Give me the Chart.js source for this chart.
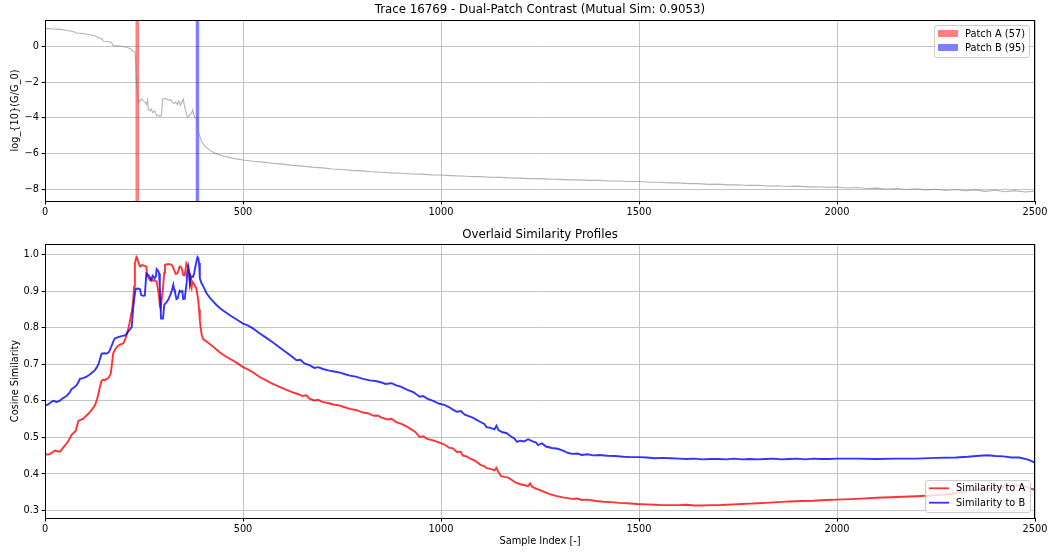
<!DOCTYPE html>
<html><head><meta charset="utf-8">
<script src="https://cdn.jsdelivr.net/npm/chart.js@4.4.0/dist/chart.umd.min.js"></script>
<style>
html,body{margin:0;padding:0;background:#fff;}
#wrap{position:relative;width:1051px;height:554px;overflow:hidden;}
#c1box{position:absolute;left:0;top:0;width:1051px;height:226px;}
#c2box{position:absolute;left:0;top:226px;width:1051px;height:328px;}
</style></head><body>
<div id="wrap"><div id="c1box"><canvas id="c1"></canvas></div><div id="c2box"><canvas id="c2"></canvas></div></div>
<script>
// ---------- data ----------
const xTicks = [0, 500, 1000, 1500, 2000, 2500];
const topYTicks = [0, -2, -4, -6, -8];
const bottomYTicks = [0.3, 0.4, 0.5, 0.6, 0.7, 0.8, 0.9, 1.0];

const topTitle = "Trace 16769 - Dual-Patch Contrast (Mutual Sim: 0.9053)";
const bottomTitle = "Overlaid Similarity Profiles";
const topYLabel = "log_{10}(G/G_0)";
const bottomYLabel = "Cosine Similarity";
const xLabel = "Sample Index [-]";

const patchLabels = ["Patch A (57)", "Patch B (95)"];
const patchA = [228, 238];
const patchB = [380, 390];

const traceX = [0,10,20,30,45,55,65,75,80,95,110,125,139,145,147,160,168,172,190,206,215,220,227,229,231,233,235,238,240,244,248,252,256,259,261,265,268,272,277,280,282,286,290,294,297,305,312,318,322,326,330,334,338,342,346,349,352,355,359,362,366,370,373,376,379,384,386,388,392,396,405,416,430,450,475,
500,525,550,575,600,625,650,675,700,725,750,775,800,825,850,875,900,925,950,975,1000,1025,1050,1075,1100,1125,1150,1175,1200,1225,1250,1275,1300,1325,1350,1375,1400,1425,1450,1475,1500,1525,1550,1575,1600,1625,1650,1675,1700,1725,1750,1775,1800,1825,1850,1875,1900,1925,1950,1975,2000,2025,2050,2075,2100,2125,2150,2175,2200,2225,2250,2275,2300,2325,2350,2375,2400,2425,2450,2475,2500];
const traceY = [1.00,0.99,0.97,0.96,0.93,0.88,0.86,0.80,0.74,0.72,0.66,0.59,0.45,0.40,0.28,0.27,0.22,0.04,0.02,-0.05,-0.12,-0.25,-0.32,-0.9,-1.98,-2.5,-2.8,-3.15,-3.05,-2.95,-3.05,-3.1,-3.25,-3.0,-3.55,-3.6,-3.5,-3.7,-3.62,-3.75,-3.88,-3.85,-3.92,-3.85,-2.95,-2.92,-3.0,-2.98,-3.15,-3.2,-3.1,-3.25,-3.05,-3.3,-3.1,-2.95,-3.3,-3.6,-3.9,-3.95,-3.8,-3.75,-3.55,-3.85,-4.0,-4.05,-4.5,-4.8,-5.1,-5.35,-5.6,-5.8,-5.98,-6.13,-6.26,
-6.35,-6.42,-6.47,-6.53,-6.58,-6.65,-6.69,-6.75,-6.79,-6.85,-6.88,-6.93,-6.96,-7.01,-7.03,-7.07,-7.09,-7.13,-7.14,-7.18,-7.19,-7.22,-7.24,-7.27,-7.28,-7.31,-7.32,-7.35,-7.36,-7.39,-7.39,-7.42,-7.43,-7.46,-7.46,-7.49,-7.49,-7.52,-7.52,-7.55,-7.55,-7.59,-7.59,-7.63,-7.63,-7.67,-7.67,-7.71,-7.70,-7.74,-7.73,-7.77,-7.76,-7.80,-7.79,-7.83,-7.81,-7.85,-7.84,-7.88,-7.86,-7.91,-7.89,-7.94,-7.92,-7.97,-7.94,-8.00,-7.96,-8.02,-7.98,-8.05,-8.00,-8.07,-8.02,-8.10,-8.04,-8.12,-8.06,-8.14,-8.09];

const simBX = [0,8,15,21,29,37,45,55,62,67,74,80,85,88,96,105,113,120,126,131,135,139,143,150,156,161,164,169,173,177,185,193,202,206,210,216,219,221,223,226,229,235,240,243,248,252,256,260,265,268,272,277,280,282,286,288,290,293,298,301,306,311,316,320,324,326,328,332,335,338,340,344,347,349,353,355,358,359,362,364,366,370,374,377,379,382,385,387,389,391,395,400,404,408,416,425,433,442,455,467,480,490,500,512,525,540,559,575,590,601,615,625,635,645,655,669,680,690,702,715,730,745,760,770,785,803,820,835,850,860,875,887,900,915,930,946,955,965,980,996,1010,1020,1030,1040,1050,1060,1070,1080,1090,1100,1110,1115,1125,1135,1140,1145,1155,1165,1175,1185,1192,1200,1210,1220,1230,1240,1245,1255,1265,1280,1295,1308,1320,1330,1345,1355,1370,1385,1400,1420,1440,1460,1480,1500,1520,1540,1560,1580,1600,1620,1640,1660,1680,1700,1720,1740,1760,1780,1800,1820,1840,1860,1880,1900,1920,1940,1960,1980,2000,2050,2100,2150,2200,2250,2300,2330,2360,2380,2400,2420,2440,2460,2480,2490,2500];
const simBY = [0.587,0.590,0.596,0.600,0.597,0.600,0.607,0.614,0.622,0.632,0.637,0.643,0.652,0.660,0.662,0.666,0.672,0.678,0.684,0.692,0.700,0.715,0.729,0.730,0.729,0.733,0.739,0.752,0.764,0.771,0.774,0.777,0.779,0.783,0.789,0.797,0.802,0.830,0.857,0.885,0.906,0.907,0.905,0.889,0.887,0.888,0.948,0.945,0.938,0.930,0.942,0.935,0.940,0.960,0.955,0.948,0.912,0.825,0.825,0.862,0.868,0.876,0.888,0.900,0.917,0.905,0.898,0.878,0.880,0.893,0.901,0.898,0.900,0.878,0.879,0.900,0.925,0.949,0.966,0.950,0.921,0.940,0.939,0.950,0.963,0.978,0.993,0.990,0.977,0.935,0.922,0.912,0.903,0.894,0.882,0.871,0.862,0.853,0.843,0.834,0.825,0.818,0.811,0.806,0.798,0.786,0.772,0.760,0.748,0.739,0.728,0.720,0.711,0.712,0.702,0.697,0.690,0.692,0.687,0.683,0.680,0.677,0.672,0.669,0.666,0.660,0.656,0.654,0.650,0.646,0.648,0.642,0.638,0.630,0.624,0.611,0.613,0.606,0.600,0.592,0.588,0.583,0.576,0.570,0.572,0.562,0.558,0.554,0.548,0.542,0.536,0.528,0.526,0.522,0.532,0.520,0.514,0.512,0.504,0.497,0.488,0.491,0.489,0.495,0.490,0.486,0.479,0.484,0.475,0.471,0.469,0.464,0.458,0.455,0.456,0.452,0.454,0.451,0.452,0.450,0.449,0.447,0.446,0.446,0.445,0.443,0.444,0.443,0.442,0.441,0.442,0.440,0.441,0.441,0.440,0.442,0.440,0.441,0.440,0.441,0.442,0.440,0.441,0.442,0.440,0.442,0.441,0.441,0.442,0.442,0.441,0.442,0.442,0.444,0.445,0.447,0.450,0.451,0.449,0.448,0.445,0.445,0.440,0.436,0.431];

const simAX = [0,8,13,20,25,32,38,46,52,59,64,67,72,78,81,84,90,97,103,109,115,120,126,131,135,139,143,148,151,156,160,166,169,172,177,181,188,193,198,203,206,211,215,218,220,223,225,227,229,231,233,235,238,241,245,248,252,256,258,262,265,270,273,276,282,286,288,290,292,295,298,301,303,311,316,320,324,327,330,334,336,340,344,347,349,353,355,357,361,364,366,370,372,376,379,382,387,389,391,393,396,400,408,416,425,433,441,450,460,475,488,500,512,525,542,555,570,584,595,610,626,640,650,660,668,680,690,700,715,727,740,755,769,785,803,815,830,840,850,865,875,887,900,915,925,935,946,955,965,980,996,1010,1020,1030,1040,1050,1055,1065,1075,1085,1100,1110,1115,1125,1135,1140,1145,1152,1160,1170,1180,1189,1200,1210,1220,1225,1230,1240,1250,1265,1275,1290,1308,1320,1330,1345,1355,1370,1392,1410,1430,1450,1470,1496,1520,1540,1560,1580,1600,1620,1640,1660,1680,1700,1720,1740,1760,1780,1800,1820,1850,1880,1910,1940,1970,2000,2050,2100,2150,2200,2250,2290,2324,2360,2400,2433,2467,2480,2490,2500];
const simAY = [0.454,0.453,0.455,0.460,0.464,0.462,0.461,0.472,0.480,0.490,0.500,0.507,0.512,0.518,0.532,0.545,0.548,0.551,0.558,0.564,0.572,0.578,0.588,0.603,0.619,0.640,0.655,0.658,0.656,0.660,0.662,0.674,0.700,0.729,0.740,0.747,0.753,0.755,0.757,0.770,0.779,0.800,0.820,0.840,0.848,0.880,0.912,0.975,0.985,0.993,0.990,0.981,0.972,0.967,0.971,0.970,0.968,0.967,0.940,0.935,0.930,0.932,0.928,0.930,0.926,0.900,0.885,0.860,0.853,0.880,0.908,0.950,0.972,0.974,0.973,0.972,0.963,0.955,0.947,0.948,0.952,0.967,0.965,0.955,0.944,0.943,0.960,0.976,0.967,0.945,0.921,0.908,0.926,0.920,0.913,0.908,0.875,0.850,0.820,0.800,0.779,0.768,0.762,0.755,0.748,0.740,0.733,0.726,0.719,0.710,0.701,0.692,0.686,0.678,0.665,0.658,0.649,0.642,0.637,0.630,0.623,0.618,0.613,0.615,0.606,0.601,0.603,0.597,0.594,0.590,0.588,0.583,0.578,0.575,0.568,0.566,0.559,0.560,0.554,0.549,0.551,0.542,0.537,0.529,0.522,0.515,0.501,0.503,0.496,0.492,0.486,0.480,0.472,0.470,0.460,0.461,0.450,0.448,0.441,0.437,0.425,0.421,0.416,0.414,0.410,0.417,0.405,0.394,0.392,0.390,0.383,0.376,0.372,0.370,0.367,0.374,0.365,0.360,0.356,0.349,0.345,0.340,0.336,0.334,0.332,0.333,0.329,0.330,0.326,0.324,0.323,0.321,0.320,0.318,0.317,0.316,0.315,0.315,0.315,0.316,0.314,0.314,0.315,0.315,0.316,0.317,0.318,0.319,0.320,0.321,0.323,0.325,0.326,0.327,0.329,0.330,0.332,0.335,0.337,0.339,0.342,0.346,0.353,0.358,0.362,0.367,0.370,0.364,0.360,0.357];

const seriesLabels = ["Similarity to A", "Similarity to B"];

// ---------- styling / layout ----------
const FONT = "'DejaVu Sans', sans-serif";
const TICK_PX = 9.8;
const TITLE_PX = 11.8;
const TOP_Y_MIN = -8.64, TOP_Y_MAX = 1.47;
const BOT_Y_MIN = 0.2797, BOT_Y_MAX = 1.0286;
const GRID = '#c4c4c4';

const pts = (xs, ys) => xs.map((x, i) => ({x: x, y: ys[i]}));
const minus = s => String(s).replace('-', '\u2212');

const deco = {
  id: 'deco',
  afterDatasetsDraw(chart, args, o) {
    const {ctx, chartArea: a} = chart;
    ctx.save();
    ctx.strokeStyle = '#000'; ctx.lineWidth = 1;
    ctx.strokeRect(Math.round(a.left) + 0.5, Math.round(a.top) + 0.5, Math.round(a.right - a.left) - 1, Math.round(a.bottom - a.top));
    ctx.restore();
  },
  afterDraw(chart, args, o) {
    const {ctx, chartArea: a} = chart;
    const cx = (a.left + a.right) / 2;
    ctx.save();
    ctx.fillStyle = '#000';
    ctx.textAlign = 'center'; ctx.textBaseline = 'middle';
    ctx.font = TITLE_PX + 'px ' + FONT;
    ctx.fillText(o.title, cx, o.titleY);
    ctx.font = TICK_PX + 'px ' + FONT;
    if (o.xLabel) ctx.fillText(o.xLabel, cx, o.xLabelY);
    ctx.save();
    ctx.translate(15, (a.top + a.bottom) / 2);
    ctx.rotate(-Math.PI / 2);
    ctx.fillText(o.yLabel, 0, 0);
    ctx.restore();
    // legend
    const L = o.legend;
    ctx.fillStyle = 'rgba(255,255,255,0.8)';
    ctx.strokeStyle = '#cccccc'; ctx.lineWidth = 1;
    ctx.beginPath();
    ctx.roundRect(L.x + 0.5, L.y + 0.5, L.w, L.h, 2.5);
    ctx.fill(); ctx.stroke();
    ctx.textAlign = 'left';
    L.items.forEach((it, i) => {
      const yy = L.y + L.first + i * L.gap;
      if (it.kind === 'patch') {
        ctx.fillStyle = it.color;
        ctx.fillRect(L.x + 4, yy - 3.5, 20, 7);
      } else {
        ctx.strokeStyle = it.color; ctx.lineWidth = 1.8;
        ctx.beginPath(); ctx.moveTo(L.x + 4, yy); ctx.lineTo(L.x + 24, yy); ctx.stroke();
      }
      ctx.fillStyle = '#000';
      ctx.fillText(it.label, L.x + L.tx, yy + 0.5);
    });
    ctx.restore();
  }
};

function xScale(h) {
  return {
    type: 'linear', min: 0, max: 2500,
    afterBuildTicks: s => { s.ticks = xTicks.map(v => ({value: v})); },
    afterFit: s => { s.height = h; },
    ticks: {font: {family: FONT, size: TICK_PX}, color: '#000', padding: 2, maxRotation: 0, autoSkip: false,
            callback: v => String(v)},
    grid: {color: GRID, lineWidth: 1, tickColor: '#000', tickLength: 3.5, drawOnChartArea: true},
    border: {display: true, color: '#000', width: 1}
  };
}
function yScale(min, max, tickVals, fmt) {
  return {
    type: 'linear', min: min, max: max,
    afterBuildTicks: s => { s.ticks = tickVals.map(v => ({value: v})); },
    afterFit: s => { s.width = 45; },
    ticks: {font: {family: FONT, size: TICK_PX}, color: '#000', padding: 2.5, autoSkip: false, callback: fmt},
    grid: {color: GRID, lineWidth: 1, tickColor: '#000', tickLength: 3.5},
    border: {display: true, color: '#000', width: 1}
  };
}

Chart.defaults.animation = false;

new Chart(document.getElementById('c1'), {
  type: 'line',
  data: {datasets: [
    {label: 'trace', data: pts(traceX, traceY), borderColor: 'rgba(128,128,128,0.6)', borderWidth: 1.1, pointRadius: 0, tension: 0, fill: false},
    {label: patchLabels[0], data: [{x: patchA[0], y: TOP_Y_MAX}, {x: patchA[1], y: TOP_Y_MAX}], borderWidth: 0, borderColor: 'rgba(0,0,0,0)', backgroundColor: 'rgba(255,0,0,0.5)', pointRadius: 0, fill: 'start'},
    {label: patchLabels[1], data: [{x: patchB[0], y: TOP_Y_MAX}, {x: patchB[1], y: TOP_Y_MAX}], borderWidth: 0, borderColor: 'rgba(0,0,0,0)', backgroundColor: 'rgba(0,0,255,0.5)', pointRadius: 0, fill: 'start'}
  ]},
  options: {
    responsive: true, maintainAspectRatio: false, animation: false,
    layout: {padding: {left: 0, right: 16, top: 20, bottom: 0}},
    scales: {
      x: xScale(25),
      y: yScale(TOP_Y_MIN, TOP_Y_MAX, topYTicks, v => minus(v))
    },
    plugins: {
      legend: {display: false}, tooltip: {enabled: false},
      deco: {title: topTitle, titleY: 10, yLabel: topYLabel,
        legend: {x: 934, y: 25, w: 95, h: 32, first: 8.5, gap: 14, tx: 31, items: [
          {kind: 'patch', color: 'rgba(255,0,0,0.5)', label: patchLabels[0]},
          {kind: 'patch', color: 'rgba(0,0,255,0.5)', label: patchLabels[1]}]}}
    }
  },
  plugins: [deco]
});

new Chart(document.getElementById('c2'), {
  type: 'line',
  data: {datasets: [
    {label: seriesLabels[1], data: pts(simBX, simBY), borderColor: 'rgba(0,0,255,0.8)', borderWidth: 1.9, pointRadius: 0, tension: 0, fill: false},
    {label: seriesLabels[0], data: pts(simAX, simAY), borderColor: 'rgba(255,0,0,0.8)', borderWidth: 1.9, pointRadius: 0, tension: 0, fill: false}
  ]},
  options: {
    responsive: true, maintainAspectRatio: false, animation: false,
    layout: {padding: {left: 0, right: 16, top: 18, bottom: 0}},
    scales: {
      x: xScale(36),
      y: yScale(BOT_Y_MIN, BOT_Y_MAX, bottomYTicks, v => Number(v).toFixed(1))
    },
    plugins: {
      legend: {display: false}, tooltip: {enabled: false},
      deco: {title: bottomTitle, titleY: 9, yLabel: bottomYLabel, xLabel: xLabel, xLabelY: 315.7,
        legend: {x: 925, y: 254, w: 105, h: 32, first: 8.3, gap: 14.4, tx: 31, items: [
          {kind: 'line', color: 'rgba(255,0,0,0.8)', label: seriesLabels[0]},
          {kind: 'line', color: 'rgba(0,0,255,0.8)', label: seriesLabels[1]}]}}
    }
  },
  plugins: [deco]
});
</script>
</body></html>
